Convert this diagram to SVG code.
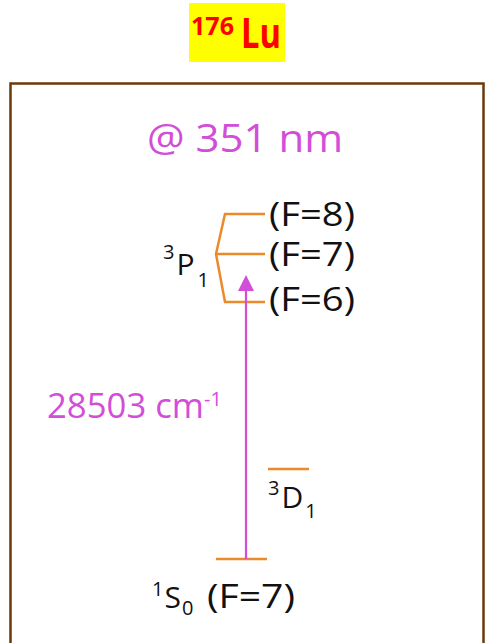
<svg xmlns="http://www.w3.org/2000/svg" width="485" height="643" viewBox="0 0 485 643">
<defs>
<style>
text{font-family:"Open Sans","Liberation Sans",Arial,sans-serif}
.mag{fill:#d24ed8}
.blk{fill:#111}
.lvl{stroke:#ea8a2a;stroke-width:2.5;fill:none}
</style>
<marker id="ah" viewBox="0 0 16 16" markerWidth="16" markerHeight="16" refX="1" refY="8" orient="auto" markerUnits="userSpaceOnUse">
<path d="M0,0 L16,8 L0,16 Z" fill="#d24ed8"/>
</marker>
</defs>
<rect width="485" height="643" fill="#fff"/>
<g id="title">
<rect x="189" y="3" width="96" height="59" fill="#ffff00"/>
<text x="191" y="35" font-size="25" font-weight="bold" fill="#ff0000" textLength="43" lengthAdjust="spacingAndGlyphs">176</text>
<text x="241" y="48" font-size="41" font-weight="bold" fill="#ff0000" textLength="40" lengthAdjust="spacingAndGlyphs">Lu</text>
</g>
<g id="frame">
<rect x="10.5" y="83.5" width="473" height="566" fill="none" stroke="#6b3a0b" stroke-width="2.5"/>
</g>
<g id="wavelength">
<text class="mag" x="147" y="152" font-size="39" textLength="196" lengthAdjust="spacingAndGlyphs">@ 351 nm</text>
</g>
<g id="level-3P1">
<path class="lvl" d="M265,214 H225 L216,254 L225,302 H265 M216,254 H265"/>
<text class="blk" x="163" y="275" font-size="30"><tspan font-size="20" dy="-16">3</tspan><tspan dy="16" dx="2">P</tspan><tspan font-size="20" dy="12" dx="3">1</tspan></text>
<text class="blk" x="269" y="226" font-size="32" textLength="86" lengthAdjust="spacingAndGlyphs">(F=8)</text>
<text class="blk" x="269" y="266" font-size="32" textLength="86" lengthAdjust="spacingAndGlyphs">(F=7)</text>
<text class="blk" x="269" y="311" font-size="32" textLength="86" lengthAdjust="spacingAndGlyphs">(F=6)</text>
</g>
<g id="level-3D1">
<line class="lvl" x1="268" y1="469" x2="309" y2="469"/>
<text class="blk" x="268" y="508" font-size="30"><tspan font-size="20" dy="-13">3</tspan><tspan dy="13" dx="2">D</tspan><tspan font-size="20" dy="10" dx="2">1</tspan></text>
</g>
<g id="level-1S0">
<line class="lvl" x1="216" y1="559" x2="267" y2="559"/>
<text class="blk" x="152" y="608" font-size="30"><tspan font-size="20" dy="-12">1</tspan><tspan dy="12" dx="1">S</tspan><tspan font-size="20" dy="7" dx="1">0</tspan></text>
<text class="blk" x="207" y="608" font-size="32" textLength="88" lengthAdjust="spacingAndGlyphs">(F=7)</text>
</g>
<g id="connectors">
<line x1="246" y1="559" x2="246" y2="290" stroke="#d24ed8" stroke-width="2.2" marker-end="url(#ah)"/>
</g>
<g id="energy-label">
<text class="mag" x="47" y="418" font-size="35"><tspan textLength="157" lengthAdjust="spacingAndGlyphs">28503 cm</tspan><tspan font-size="20" dy="-12">-1</tspan></text>
</g>
</svg>
